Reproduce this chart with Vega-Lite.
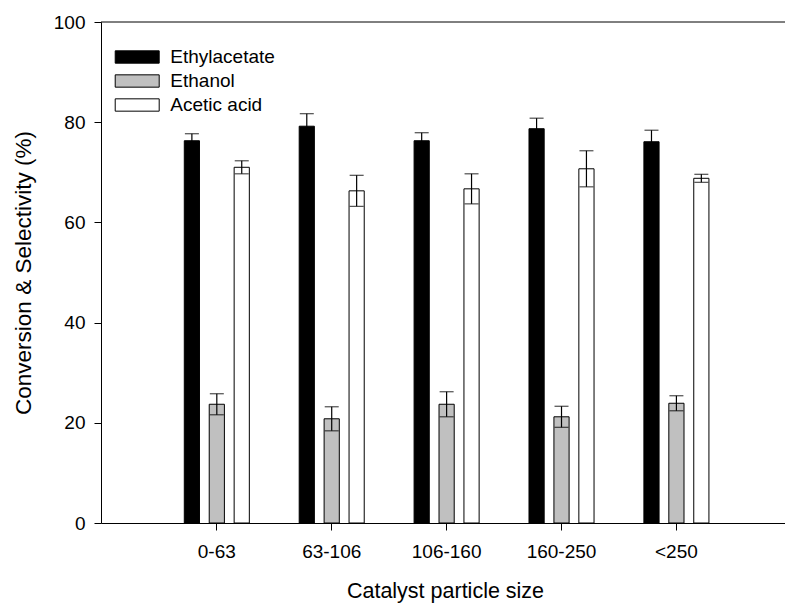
{
  "$schema": "https://vega.github.io/schema/vega-lite/v6.json",
  "autosize": {"type": "none"},
  "padding": {"left": 101, "top": 22, "right": 0, "bottom": 80},
  "width": 684,
  "height": 501,
  "background": "white",
  "config": {
    "view": {"stroke": null},
    "font": "Liberation Sans",
    "axis": {"grid": false, "domainColor": "black", "domainWidth": 1, "tickColor": "black", "tickWidth": 1, "labelColor": "black", "titleColor": "black", "labelFont": "Liberation Sans", "titleFont": "Liberation Sans", "titleFontWeight": "normal"}
  },
  "data": {
    "values": [
      {"size": "0-63", "compound": "Ethylacetate", "value": 76.3, "err": 1.4},
      {"size": "0-63", "compound": "Ethanol", "value": 23.7, "err": 2.1},
      {"size": "0-63", "compound": "Acetic acid", "value": 71.0, "err": 1.3},
      {"size": "63-106", "compound": "Ethylacetate", "value": 79.2, "err": 2.5},
      {"size": "63-106", "compound": "Ethanol", "value": 20.8, "err": 2.4},
      {"size": "63-106", "compound": "Acetic acid", "value": 66.3, "err": 3.1},
      {"size": "106-160", "compound": "Ethylacetate", "value": 76.3, "err": 1.6},
      {"size": "106-160", "compound": "Ethanol", "value": 23.7, "err": 2.5},
      {"size": "106-160", "compound": "Acetic acid", "value": 66.7, "err": 3.0},
      {"size": "160-250", "compound": "Ethylacetate", "value": 78.7, "err": 2.1},
      {"size": "160-250", "compound": "Ethanol", "value": 21.2, "err": 2.1},
      {"size": "160-250", "compound": "Acetic acid", "value": 70.7, "err": 3.6},
      {"size": "<250", "compound": "Ethylacetate", "value": 76.1, "err": 2.3},
      {"size": "<250", "compound": "Ethanol", "value": 23.9, "err": 1.5},
      {"size": "<250", "compound": "Acetic acid", "value": 68.8, "err": 0.8}
    ]
  },
  "layer": [
    {
      "mark": {"type": "bar", "stroke": "black", "strokeWidth": 1},
      "encoding": {
        "x": {
          "field": "size", "type": "nominal", "sort": ["0-63", "63-106", "106-160", "160-250", "<250"],
          "scale": {"type": "band", "paddingInner": 0, "paddingOuter": 0.4765, "align": 0.533, "round": false},
          "axis": {"title": "Catalyst particle size", "labelAngle": 0, "labelFontSize": 19, "tickSize": 7, "labelPadding": 12, "titleFontSize": 21.5, "titlePadding": 19, "titleX": 344}
        },
        "xOffset": {
          "field": "compound", "type": "nominal", "sort": ["Ethylacetate", "Ethanol", "Acetic acid"],
          "scale": {"paddingInner": 0.391, "paddingOuter": 1.1935, "round": false}
        },
        "y": {"field": "value", "type": "quantitative", "title": "Conversion & Selectivity (%)",
          "scale": {"domain": [0, 100], "nice": false, "zero": true},
          "axis": {"title": "Conversion & Selectivity (%)", "values": [0, 20, 40, 60, 80, 100], "labelFontSize": 19, "tickSize": 7, "labelPadding": 9, "titleFontSize": 22.5, "titlePadding": 18}},
        "fill": {
          "field": "compound", "type": "nominal",
          "sort": ["Ethylacetate", "Ethanol", "Acetic acid"],
          "scale": {"domain": ["Ethylacetate", "Ethanol", "Acetic acid"], "range": ["black", "#c0c0c0", "white"]},
          "legend": {
            "title": null, "orient": "none", "legendX": 26.7, "legendY": 25.5, "padding": 0,
            "symbolType": "M-3,-0.84H3V0.84H-3Z", "symbolSize": 215, "symbolStrokeColor": "black", "symbolStrokeWidth": 1, "symbolOpacity": 1,
            "labelFontSize": 19, "labelColor": "black", "labelFont": "Liberation Sans", "labelOffset": 23.6, "rowPadding": 4
          }
        }
      }
    },
    {
      "mark": {"type": "errorbar", "ticks": {"size": 14, "thickness": 1.2, "color": "black"}, "rule": {"color": "black", "strokeWidth": 1.2}},
      "encoding": {
        "x": {"field": "size", "type": "nominal", "sort": ["0-63", "63-106", "106-160", "160-250", "<250"]},
        "xOffset": {"field": "compound", "type": "nominal", "sort": ["Ethylacetate", "Ethanol", "Acetic acid"]},
        "y": {"field": "value", "type": "quantitative", "title": "Conversion & Selectivity (%)"},
        "yError": {"field": "err"}
      }
    },
    {
      "data": {"values": [{}]},
      "mark": {"type": "rule", "color": "black", "strokeWidth": 1},
      "encoding": {"y": {"datum": 100}}
    }
  ]
}
